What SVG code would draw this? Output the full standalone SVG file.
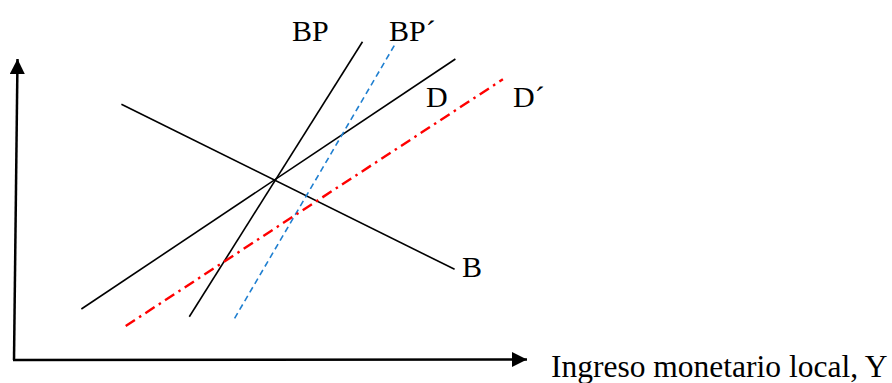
<svg xmlns="http://www.w3.org/2000/svg" width="892" height="383" viewBox="0 0 892 383">
<style>
.ax{stroke:#000;stroke-width:2.5;fill:none}
.ln{stroke:#000;stroke-width:1.6;fill:none}
.bp2{stroke:#1f7fd0;stroke-width:1.6;fill:none;stroke-dasharray:6 4}
.d2{stroke:#ff0000;stroke-width:2.4;fill:none;stroke-dasharray:11 5 2.5 5}
text{font-family:"Liberation Serif","Times New Roman",serif;font-size:30px;fill:#000}
.xl{font-size:31.5px}
</style>
<defs>
<marker id="ah" markerWidth="16" markerHeight="15" refX="15" refY="7.5" orient="auto" markerUnits="userSpaceOnUse">
<path d="M0,0 L15,7.5 L0,15 Z" fill="#000"/>
</marker>
</defs>
<g id="axes">
<line class="ax" x1="14" y1="360" x2="17.5" y2="59" marker-end="url(#ah)"/>
<line class="ax" x1="13" y1="360" x2="527" y2="359.5" marker-end="url(#ah)"/>
</g>
<g id="connectors">
<line id="B" class="ln" x1="121.4" y1="104.3" x2="454.6" y2="269.3"/>
<line id="D" class="ln" x1="81.4" y1="309" x2="455.4" y2="59"/>
<line id="BP" class="ln" x1="189.3" y1="316.7" x2="362.5" y2="41.7"/>
<line id="BPp" class="bp2" x1="234.6" y1="318.3" x2="394.6" y2="45"/>
<line id="Dp" class="d2" x1="125.7" y1="326" x2="502.9" y2="79.3"/>
</g>
<g id="label-BP"><text x="292" y="41">BP</text></g>
<g id="label-BPp"><text x="389" y="41">BP´</text></g>
<g id="label-D"><text x="426" y="107">D</text></g>
<g id="label-Dp"><text x="513" y="107">D´</text></g>
<g id="label-B"><text x="462" y="277">B</text></g>
<g id="label-x"><text class="xl" x="551" y="377">Ingreso monetario local, Y</text></g>
</svg>
